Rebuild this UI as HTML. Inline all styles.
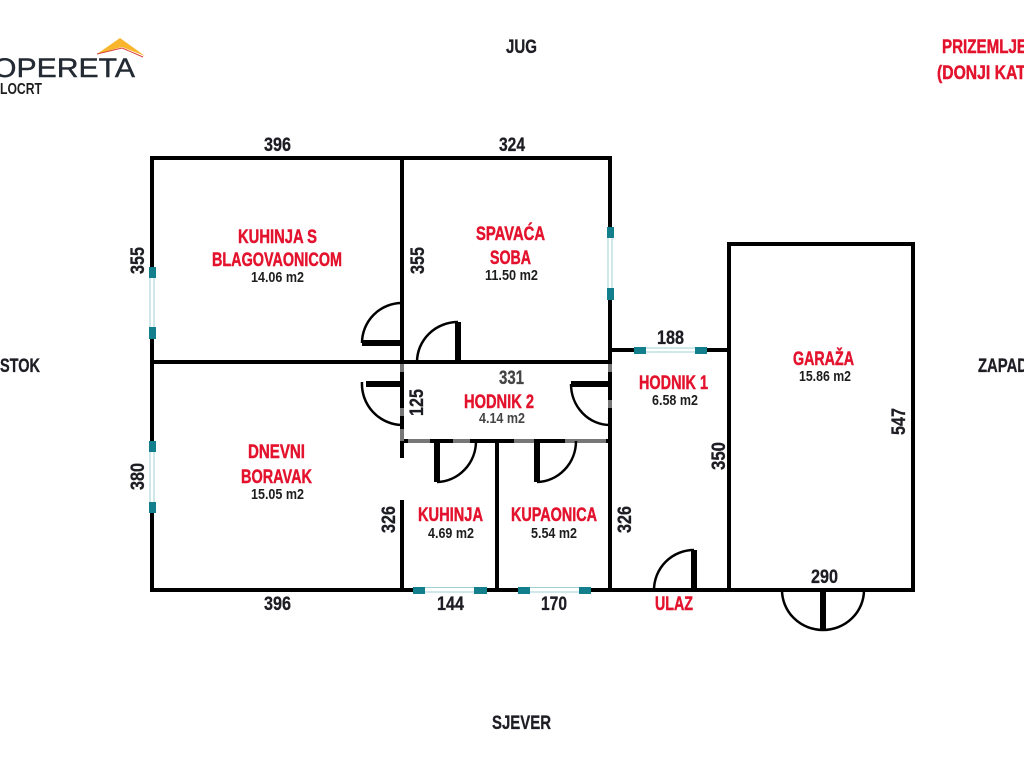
<!DOCTYPE html>
<html>
<head>
<meta charset="utf-8">
<style>
html,body{margin:0;padding:0;background:#fff;width:1024px;height:768px;overflow:hidden}
svg{display:block}
text{font-family:"Liberation Sans",sans-serif;font-weight:bold}
.r{fill:#e3122d;stroke:#e3122d;stroke-width:.45;font-size:19px}
.d{fill:#1d1d24;stroke:#1d1d24;stroke-width:.3;font-size:19px}
.a{fill:#1d1d1d;font-size:14.500px}
.t{fill:#137f8c}
.g{fill:none;stroke:#000;stroke-width:4;stroke-linecap:square}
.b{fill:none;stroke:#000;stroke-width:6}
.c{fill:none;stroke:#000;stroke-width:2.5}
</style>
</head>
<body>
<svg width="1024" height="768" viewBox="0 0 1024 768" xmlns="http://www.w3.org/2000/svg">
<rect width="1024" height="768" fill="#fff"/>

<!-- logo -->
<polygon points="97,54 120,38 145,56 122,47" fill="#f9b62d"/>
<path d="M97,54 L122,48 L143,57" fill="none" stroke="#d8403a" stroke-width="1"/>
<text x="-7" y="77" font-size="27" textLength="142" lengthAdjust="spacingAndGlyphs" fill="#232a33" style="font-weight:normal" stroke="#232a33" stroke-width=".4">OPERETA</text>
<text x="0" y="94" font-size="16" textLength="42" lengthAdjust="spacingAndGlyphs" fill="#1d1d1d">LOCRT</text>

<!-- walls -->
<path class="g" d="M152,158H610V362M152,158V590H913V244H729V590M402,158V456M402,502V590M152,362H610M610,362V590M610,350H729M497,441V590M402,441H610"/>
<path d="M402,364V372M402,408V416M402,429V441M610,364V372M610,400V408" stroke="#777" stroke-width="4" fill="none"/>
<path d="M408,441H430M453,441H470M514,441H534M565,441H606" stroke="#777" stroke-width="4" fill="none"/>

<!-- doors -->
<path class="b" d="M362,343H402"/><path class="c" d="M362,343A40,40 0 0 1 402,303"/>
<path class="b" d="M458,322V362"/><path class="c" d="M458,322A41,40 0 0 0 417,362"/>
<path class="b" d="M366,384H402"/><path class="c" d="M362,382A41,41 0 0 0 402,425" stroke="#555"/>
<path class="b" d="M571,384H610"/><path class="c" d="M571,384A39,41 0 0 0 610,425"/>
<path class="b" d="M437,441V482"/><path class="c" d="M437,482A40,41 0 0 0 476,441"/>
<path class="b" d="M537,441V482"/><path class="c" d="M537,482A40,41 0 0 0 576,441"/>
<path class="b" d="M694,550V590"/><path class="c" d="M694,550A40,40 0 0 0 654,590"/>
<path class="b" d="M823,590V630"/><path class="c" d="M782,590A41,40 0 0 0 864,590"/>

<!-- windows -->
<g>
<rect x="149" y="267" width="7" height="72" fill="#fff"/>
<path d="M150,278V327M154,278V327" stroke="#9fd0d5" stroke-width="1"/>
<rect x="149" y="267" width="7" height="11" class="t"/><rect x="149" y="327" width="7" height="12" class="t"/>

<rect x="149" y="441" width="7" height="72" fill="#fff"/>
<path d="M150,452V502M154,452V502" stroke="#9fd0d5" stroke-width="1"/>
<rect x="149" y="441" width="7" height="11" class="t"/><rect x="149" y="502" width="7" height="11" class="t"/>

<rect x="607" y="227" width="7" height="73" fill="#fff"/>
<path d="M608,238V288M612,238V288" stroke="#9fd0d5" stroke-width="1"/>
<rect x="607" y="227" width="7" height="11" class="t"/><rect x="607" y="288" width="7" height="12" class="t"/>

<rect x="634" y="347" width="73" height="7" fill="#fff"/>
<path d="M646,348H695M646,352H695" stroke="#9fd0d5" stroke-width="1"/>
<rect x="634" y="347" width="12" height="7" class="t"/><rect x="695" y="347" width="12" height="7" class="t"/>

<rect x="413" y="587" width="74" height="7" fill="#fff"/>
<path d="M425,587.500H474M425,592H474" stroke="#9fd0d5" stroke-width="1"/>
<rect x="413" y="587" width="12" height="7" class="t"/><rect x="474" y="587" width="13" height="7" class="t"/>

<rect x="518" y="587" width="73" height="7" fill="#fff"/>
<path d="M530,587.500H579M530,592H579" stroke="#9fd0d5" stroke-width="1"/>
<rect x="518" y="587" width="12" height="7" class="t"/><rect x="579" y="587" width="12" height="7" class="t"/>
</g>

<!-- compass -->
<text class="d" x="506" y="53" textLength="31" lengthAdjust="spacingAndGlyphs">JUG</text>
<text class="d" x="492" y="729" textLength="59" lengthAdjust="spacingAndGlyphs">SJEVER</text>
<text class="d" x="0" y="372" textLength="40" lengthAdjust="spacingAndGlyphs">STOK</text>
<text class="d" x="978" y="372" textLength="50" lengthAdjust="spacingAndGlyphs">ZAPAD</text>
<text class="r" x="942" y="53" textLength="85" lengthAdjust="spacingAndGlyphs">PRIZEMLJE</text>
<text class="r" x="937" y="79" textLength="94" lengthAdjust="spacingAndGlyphs">(DONJI KAT)</text>

<!-- room names -->
<text class="r" x="238" y="243" textLength="79" lengthAdjust="spacingAndGlyphs">KUHINJA S</text>
<text class="r" x="212" y="266" textLength="130" lengthAdjust="spacingAndGlyphs">BLAGOVAONICOM</text>
<text class="a" x="251" y="282" textLength="53" lengthAdjust="spacingAndGlyphs">14.06 m2</text>
<text class="r" x="476" y="240" textLength="69" lengthAdjust="spacingAndGlyphs">SPAVAĆA</text>
<text class="r" x="490" y="264" textLength="41" lengthAdjust="spacingAndGlyphs">SOBA</text>
<text class="a" x="485" y="280" textLength="53" lengthAdjust="spacingAndGlyphs">11.50 m2</text>
<text class="r" x="248" y="458" textLength="57" lengthAdjust="spacingAndGlyphs">DNEVNI</text>
<text class="r" x="241" y="483" textLength="71" lengthAdjust="spacingAndGlyphs">BORAVAK</text>
<text class="a" x="251" y="499" textLength="53" lengthAdjust="spacingAndGlyphs">15.05 m2</text>
<text class="r" x="464" y="408" textLength="70" lengthAdjust="spacingAndGlyphs">HODNIK 2</text>
<text class="a" x="479" y="423" textLength="46" lengthAdjust="spacingAndGlyphs" style="fill:#444">4.14 m2</text>
<text class="r" x="793" y="365" textLength="61" lengthAdjust="spacingAndGlyphs">GARAŽA</text>
<text class="a" x="799" y="381" textLength="52" lengthAdjust="spacingAndGlyphs">15.86 m2</text>
<text class="r" x="639" y="389" textLength="69" lengthAdjust="spacingAndGlyphs">HODNIK 1</text>
<text class="a" x="652" y="405" textLength="46" lengthAdjust="spacingAndGlyphs">6.58 m2</text>
<text class="r" x="418" y="521" textLength="65" lengthAdjust="spacingAndGlyphs">KUHINJA</text>
<text class="a" x="428" y="538" textLength="46" lengthAdjust="spacingAndGlyphs">4.69 m2</text>
<text class="r" x="511" y="521" textLength="86" lengthAdjust="spacingAndGlyphs">KUPAONICA</text>
<text class="a" x="531" y="538" textLength="46" lengthAdjust="spacingAndGlyphs">5.54 m2</text>
<text class="r" x="655" y="610" textLength="38" lengthAdjust="spacingAndGlyphs">ULAZ</text>

<!-- dimensions -->
<text class="d" x="264" y="151" textLength="27" lengthAdjust="spacingAndGlyphs">396</text>
<text class="d" x="499" y="151" textLength="26" lengthAdjust="spacingAndGlyphs">324</text>
<text class="d" x="264" y="610" textLength="27" lengthAdjust="spacingAndGlyphs">396</text>
<text class="d" x="437" y="610" textLength="27" lengthAdjust="spacingAndGlyphs">144</text>
<text class="d" x="541" y="610" textLength="26" lengthAdjust="spacingAndGlyphs">170</text>
<text class="d" x="811" y="583" textLength="27" lengthAdjust="spacingAndGlyphs">290</text>
<text class="d" x="657" y="344" textLength="27" lengthAdjust="spacingAndGlyphs">188</text>
<text class="d" x="499" y="384" textLength="25" lengthAdjust="spacingAndGlyphs" style="fill:#444;stroke:#444">331</text>
<text class="d" transform="translate(144,274) rotate(-90)" textLength="27" lengthAdjust="spacingAndGlyphs">355</text>
<text class="d" transform="translate(424,274) rotate(-90)" textLength="27" lengthAdjust="spacingAndGlyphs">355</text>
<text class="d" transform="translate(144,490) rotate(-90)" textLength="27" lengthAdjust="spacingAndGlyphs">380</text>
<text class="d" transform="translate(423,416) rotate(-90)" textLength="27" lengthAdjust="spacingAndGlyphs">125</text>
<text class="d" transform="translate(395,533) rotate(-90)" textLength="27" lengthAdjust="spacingAndGlyphs">326</text>
<text class="d" transform="translate(631,533) rotate(-90)" textLength="27" lengthAdjust="spacingAndGlyphs">326</text>
<text class="d" transform="translate(725,470) rotate(-90)" textLength="28" lengthAdjust="spacingAndGlyphs">350</text>
<text class="d" transform="translate(905,435) rotate(-90)" textLength="27" lengthAdjust="spacingAndGlyphs">547</text>
</svg>
</body>
</html>
